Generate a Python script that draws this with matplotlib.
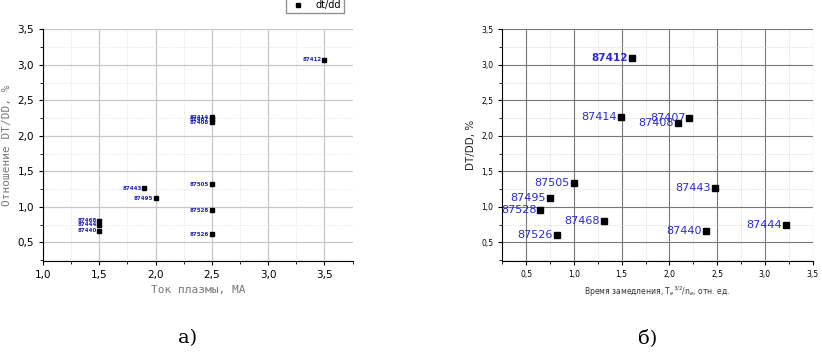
import numpy as np
import matplotlib
matplotlib.use('Agg')
import matplotlib.pyplot as plt
from matplotlib.ticker import MultipleLocator, FuncFormatter

# panel a) : plasma current vs DT/DD
shots_a   = ['87412', '87414', '87407', '87408', '87505', '87528', '87526',
             '87443', '87495', '87468', '87444', '87440']
current_a = [3.5, 2.5, 2.5, 2.5, 2.5, 2.5, 2.5, 1.9, 2.0, 1.5, 1.5, 1.5]
ratio_a   = [3.07, 2.26, 2.23, 2.19, 1.32, 0.95, 0.61, 1.26, 1.12, 0.80, 0.75, 0.66]

# panel b) : slowing-down time vs DT/DD
shots_b    = ['87412', '87414', '87407', '87408', '87505', '87443', '87495',
              '87528', '87468', '87444', '87440', '87526']
slowdown_b = [1.61, 1.49, 2.21, 2.09, 1.00, 2.48, 0.75, 0.65, 1.31, 3.22, 2.38, 0.82]
ratio_b    = [3.10, 2.26, 2.25, 2.18, 1.33, 1.26, 1.12, 0.95, 0.80, 0.75, 0.66, 0.60]

comma = FuncFormatter(lambda v, p: ('%.1f' % v).replace('.', ','))

fig = plt.figure(figsize=(8.22, 3.54), dpi=100)

# ---------- a)
ax1 = fig.add_axes([0.0523, 0.2636, 0.3767, 0.6534])
ax1.plot(current_a, ratio_a, 's', color='black', markersize=2.2, label='dt/dd')
for s, x, y in zip(shots_a, current_a, ratio_a):
    ax1.annotate(s, (x, y), xytext=(-2, 0), textcoords='offset points',
                 ha='right', va='center', fontsize=4, color='#2020c0', fontweight='bold')
ax1.set_xlim(1.0, 3.75)
ax1.set_ylim(0.24, 3.5)
ax1.xaxis.set_major_locator(MultipleLocator(0.5))
ax1.xaxis.set_minor_locator(MultipleLocator(0.25))
ax1.yaxis.set_major_locator(MultipleLocator(0.5))
ax1.yaxis.set_minor_locator(MultipleLocator(0.25))
ax1.xaxis.set_major_formatter(comma)
ax1.yaxis.set_major_formatter(comma)
ax1.grid(which='major', color='#c8c8c8', linewidth=0.9)
ax1.grid(which='minor', color='#dddddd', linewidth=0.6, linestyle=':')
ax1.set_axisbelow(True)
for sp in ['top', 'right']:
    ax1.spines[sp].set_visible(False)
ax1.tick_params(which='both', direction='out', labelsize=7.5, colors='black')
ax1.tick_params(which='major', length=3)
ax1.tick_params(which='minor', length=2)
ax1.set_xlabel('Ток плазмы, МА', family='DejaVu Sans Mono', fontsize=8, color='#777777')
ax1.set_ylabel('Отношение DT/DD, %', family='DejaVu Sans Mono', fontsize=8, color='#777777')
ax1.legend(loc='lower right', bbox_to_anchor=(349 / 822, 1 - 18 / 354),
           bbox_transform=fig.transFigure, fontsize=7, fancybox=False,
           edgecolor='#777777', borderpad=0.3, handlelength=2.0, markerscale=1.0)
fig.text(188 / 822, 1 - 338 / 354, 'а)', family='DejaVu Serif', fontsize=14,
         ha='center', va='center')

# ---------- б)
ax2 = fig.add_axes([0.611, 0.2636, 0.3777, 0.6534])
ax2.plot(slowdown_b, ratio_b, 's', color='black', markersize=4.2)
for s, x, y in zip(shots_b, slowdown_b, ratio_b):
    if s == '87412':
        ax2.annotate(s, (x, y), xytext=(-3, 0), textcoords='offset points',
                     ha='right', va='center', fontsize=7.5, color='#2a2ad0', fontweight='bold')
    else:
        ax2.annotate(s, (x, y), xytext=(-3, 0), textcoords='offset points',
                     ha='right', va='center', fontsize=8, color='#2a2ad0')
ax2.set_xlim(0.25, 3.5)
ax2.set_ylim(0.24, 3.5)
ax2.xaxis.set_major_locator(MultipleLocator(0.5))
ax2.xaxis.set_minor_locator(MultipleLocator(0.25))
ax2.yaxis.set_major_locator(MultipleLocator(0.5))
ax2.yaxis.set_minor_locator(MultipleLocator(0.25))
ax2.xaxis.set_major_formatter(comma)
ax2.yaxis.set_major_formatter(comma)
ax2.grid(which='major', color='#777777', linewidth=0.8)
ax2.grid(which='minor', color='#cccccc', linewidth=0.6, linestyle=':')
ax2.set_axisbelow(True)
for sp in ['top', 'right']:
    ax2.spines[sp].set_visible(False)
ax2.tick_params(which='both', direction='out', labelsize=5.5, colors='black')
ax2.tick_params(which='major', length=3)
ax2.tick_params(which='minor', length=2)
ax2.set_xlabel('Время замедления, T$_e$$^{3/2}$/n$_e$, отн. ед.', fontsize=5.5, color='#333333')
ax2.set_ylabel('DT/DD, %', fontsize=7.5, color='#222222')
fig.text(648 / 822, 1 - 338 / 354, 'б)', family='DejaVu Serif', fontsize=14,
         ha='center', va='center')

plt.savefig('out.png', dpi=100)
